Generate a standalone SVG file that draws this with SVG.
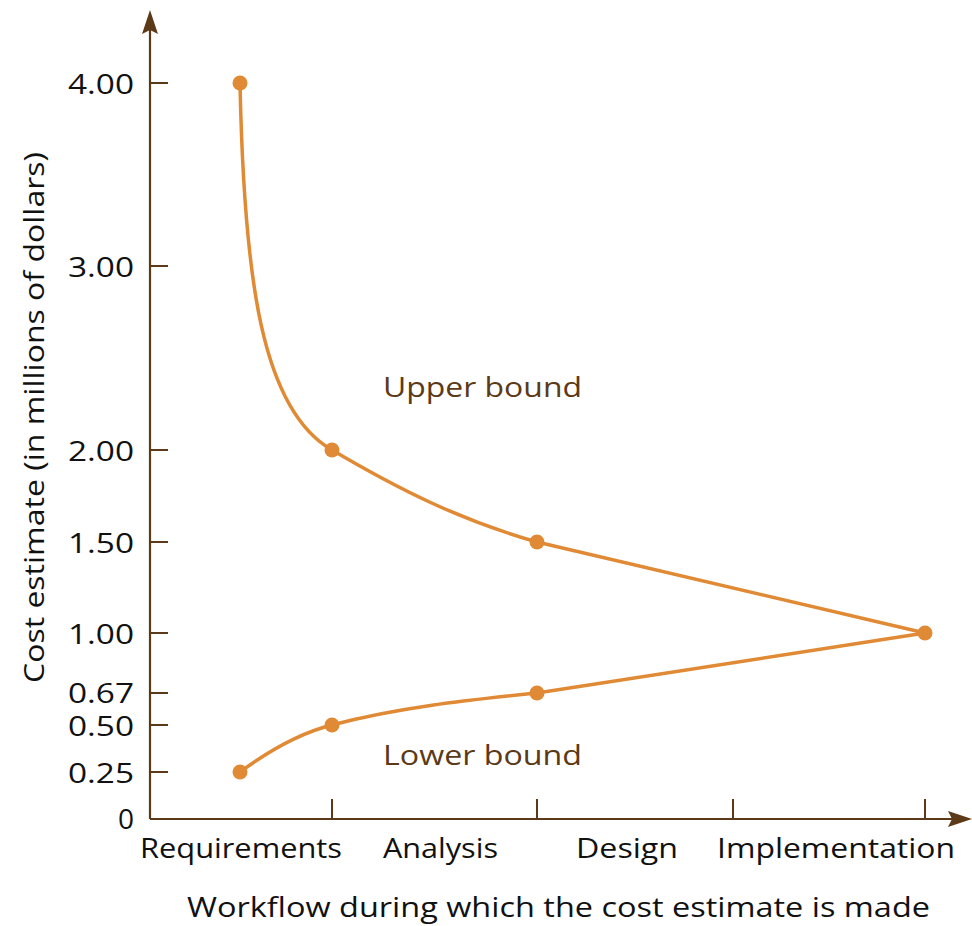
<svg xmlns="http://www.w3.org/2000/svg" width="972" height="926" viewBox="0 0 972 926">
<style>
.axis{stroke:#5c3a17;stroke-width:2.2;fill:none}
.tick{stroke:#5c3a17;stroke-width:2;fill:none}
.curve{stroke:#e08a35;stroke-width:3.5;fill:none}
.pt{fill:#e08a35}
.lbl{font-family:"Open Sans","Liberation Sans",sans-serif;font-size:28px;fill:#111}
.ylbl{text-anchor:end}
.blbl{font-family:"Open Sans","Liberation Sans",sans-serif;font-size:28px;fill:#5c3a17}
</style>
<rect width="972" height="926" fill="#fff"/>
<g id="axes">
<line class="axis" x1="150" y1="30" x2="150" y2="819"/>
<line class="axis" x1="150" y1="819" x2="958" y2="819"/>
<path d="M150,10 L158,34 L150,30 L142,34 Z" fill="#5c3a17"/>
<path d="M972,819 L948,811 L952,819 L948,827 Z" fill="#5c3a17"/>
<g class="tick">
<line x1="150" y1="83" x2="168" y2="83"/>
<line x1="150" y1="266" x2="168" y2="266"/>
<line x1="150" y1="450" x2="168" y2="450"/>
<line x1="150" y1="542" x2="168" y2="542"/>
<line x1="150" y1="633" x2="168" y2="633"/>
<line x1="150" y1="693" x2="168" y2="693"/>
<line x1="150" y1="725" x2="168" y2="725"/>
<line x1="150" y1="772" x2="168" y2="772"/>
<line x1="332" y1="799" x2="332" y2="819"/>
<line x1="537" y1="799" x2="537" y2="819"/>
<line x1="733" y1="799" x2="733" y2="819"/>
<line x1="925" y1="799" x2="925" y2="819"/>
</g>
</g>
<g id="y-labels" class="lbl ylbl">
<text x="134" y="94" textLength="66" lengthAdjust="spacingAndGlyphs">4.00</text>
<text x="134" y="277" textLength="66" lengthAdjust="spacingAndGlyphs">3.00</text>
<text x="134" y="461" textLength="66" lengthAdjust="spacingAndGlyphs">2.00</text>
<text x="134" y="553" textLength="66" lengthAdjust="spacingAndGlyphs">1.50</text>
<text x="134" y="644" textLength="66" lengthAdjust="spacingAndGlyphs">1.00</text>
<text x="134" y="703" textLength="66" lengthAdjust="spacingAndGlyphs">0.67</text>
<text x="134" y="736" textLength="66" lengthAdjust="spacingAndGlyphs">0.50</text>
<text x="134" y="783" textLength="66" lengthAdjust="spacingAndGlyphs">0.25</text>
<text x="134" y="829">0</text>
</g>
<g id="x-labels" class="lbl">
<text x="140" y="858" textLength="202" lengthAdjust="spacingAndGlyphs">Requirements</text>
<text x="383" y="858" textLength="115" lengthAdjust="spacingAndGlyphs">Analysis</text>
<text x="576" y="858" textLength="102" lengthAdjust="spacingAndGlyphs">Design</text>
<text x="717" y="858" textLength="238" lengthAdjust="spacingAndGlyphs">Implementation</text>
<text x="187" y="917" textLength="743" lengthAdjust="spacingAndGlyphs">Workflow during which the cost estimate is made</text>
<text transform="translate(44,683) rotate(-90)" textLength="531" lengthAdjust="spacingAndGlyphs">Cost estimate (in millions of dollars)</text>
</g>
<g id="connectors">
<path id="upper" class="curve" d="M240,83 C244,280 262,410 332,450 C400,490 460,520 537,542 L925,633"/>
<path id="lower" class="curve" d="M240,772 C270,750 300,733 332,725 C400,707 470,700 537,693 L925,633"/>
</g>
<g id="points" class="pt">
<circle cx="240" cy="83" r="7.5"/>
<circle cx="332" cy="450" r="7.5"/>
<circle cx="537" cy="542" r="7.5"/>
<circle cx="925" cy="633" r="7.5"/>
<circle cx="240" cy="772" r="7.5"/>
<circle cx="332" cy="725" r="7.5"/>
<circle cx="537" cy="693" r="7.5"/>
</g>
<g id="curve-labels" class="blbl">
<text x="383" y="397" textLength="199" lengthAdjust="spacingAndGlyphs">Upper bound</text>
<text x="383" y="765" textLength="199" lengthAdjust="spacingAndGlyphs">Lower bound</text>
</g>
</svg>
